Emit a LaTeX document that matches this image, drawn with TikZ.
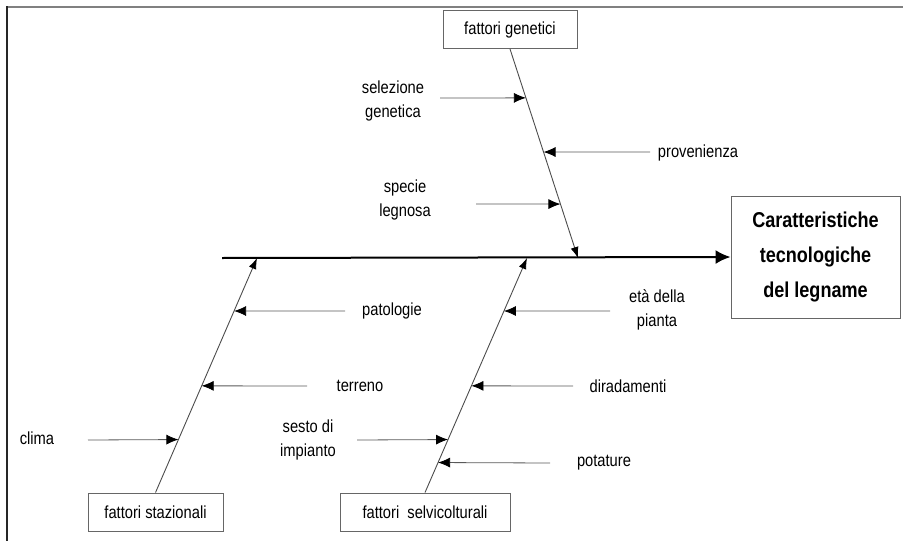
\documentclass[tikz,border=0pt]{standalone}
\usepackage{fontspec}
\setmainfont{Liberation Sans}[FakeStretch=0.84]
\usetikzlibrary{calc,arrows.meta}

\begin{document}
\begin{tikzpicture}[x=1pt,y=-1pt]
	\tikzstyle{fbox}=[rectangle, draw=black!60, line width=0.9pt, fill=white, minimum height=38pt, font=\fontsize{17.5}{19}\selectfont]
	\tikzstyle{effbox}=[rectangle, draw=black!60, line width=0.9pt, fill=white, minimum width=169pt, minimum height=122pt, align=center, font=\fontsize{21.5}{35}\selectfont\bfseries]
	\tikzstyle{lbl}=[align=center, inner sep=0pt, font=\fontsize{17.5}{24}\selectfont]
	\tikzstyle{bone}=[draw=black!70, line width=0.9pt, -{Latex[length=11pt,width=8pt,color=black]}]
	\tikzstyle{cause}=[draw=black!65, line width=0.8pt, -{Latex[length=12pt,width=10pt,color=black]}]
	\useasboundingbox (0,0) rectangle (903,541);
	% cornice
	\draw[black!50, line width=1.6pt] (6,7) -- (903,7);
	\draw[black!85, line width=1.8pt] (7,6) -- (7,541);
	% effetto e spina
	\node[effbox] (eff) at (815.5,257) {Caratteristiche\\tecnologiche\\del legname};
	\coordinate (sp) at (222,258);
	\draw[black, line width=2pt, -{Latex[length=15pt,width=14pt]}] (sp) -- (eff.west);
	% categorie
	\node[fbox, minimum width=134pt] (gen) at (510,29.5) {fattori genetici};
	\node[fbox, minimum width=135pt] (staz) at (155.5,512) {fattori stazionali};
	\node[fbox, minimum width=170pt] (selv) at (425,512) {fattori\ \ selvicolturali};
	\coordinate (g1) at (578,258);
	\coordinate (s1) at (257,258);
	\coordinate (v1) at (527,258);
	\draw[bone] (gen.south) -- (g1);
	\draw[bone] (staz.north) -- (s1);
	\draw[bone] (selv.north) -- (v1);
	% cause: fattori genetici
	\node[lbl] (sel) at (393,101) {selezione\\genetica};
	\node[lbl] (prov) at (698,153) {provenienza};
	\node[lbl] (spec) at (405,200) {specie\\legnosa};
	\coordinate (selt) at (440,98);
	\coordinate (provt) at (650,152);
	\coordinate (spect) at (476,204);
	\draw[cause] (selt) -- ($(gen.south)!0.234!(g1)$);
	\draw[cause] (provt) -- ($(gen.south)!0.493!(g1)$);
	\draw[cause] (spect) -- ($(gen.south)!0.742!(g1)$);
	% cause: fattori stazionali
	\node[lbl] (pat) at (392,311) {patologie};
	\node[lbl] (ter) at (360,386) {terreno};
	\node[lbl] (cli) at (37,438) {clima};
	\coordinate (patt) at (345,311);
	\coordinate (tert) at (307,386);
	\coordinate (clit) at (88,440);
	\draw[cause] (patt) -- ($(staz.north)!0.774!(s1)$);
	\draw[cause] (tert) -- ($(staz.north)!0.455!(s1)$);
	\draw[cause] (clit) -- ($(staz.north)!0.226!(s1)$);
	% cause: fattori selvicolturali
	\node[lbl] (eta) at (657,310) {età della\\pianta};
	\node[lbl] (dir) at (628,386) {diradamenti};
	\node[lbl] (ses) at (308,440) {sesto di\\impianto};
	\node[lbl] (pot) at (604,463) {potature};
	\coordinate (etat) at (610,311);
	\coordinate (dirt) at (573,386);
	\coordinate (sest) at (357,440);
	\coordinate (pott) at (550,463);
	\draw[cause] (etat) -- ($(selv.north)!0.774!(v1)$);
	\draw[cause] (dirt) -- ($(selv.north)!0.455!(v1)$);
	\draw[cause] (sest) -- ($(selv.north)!0.226!(v1)$);
	\draw[cause] (pott) -- ($(selv.north)!0.128!(v1)$);
\end{tikzpicture}
\end{document}
